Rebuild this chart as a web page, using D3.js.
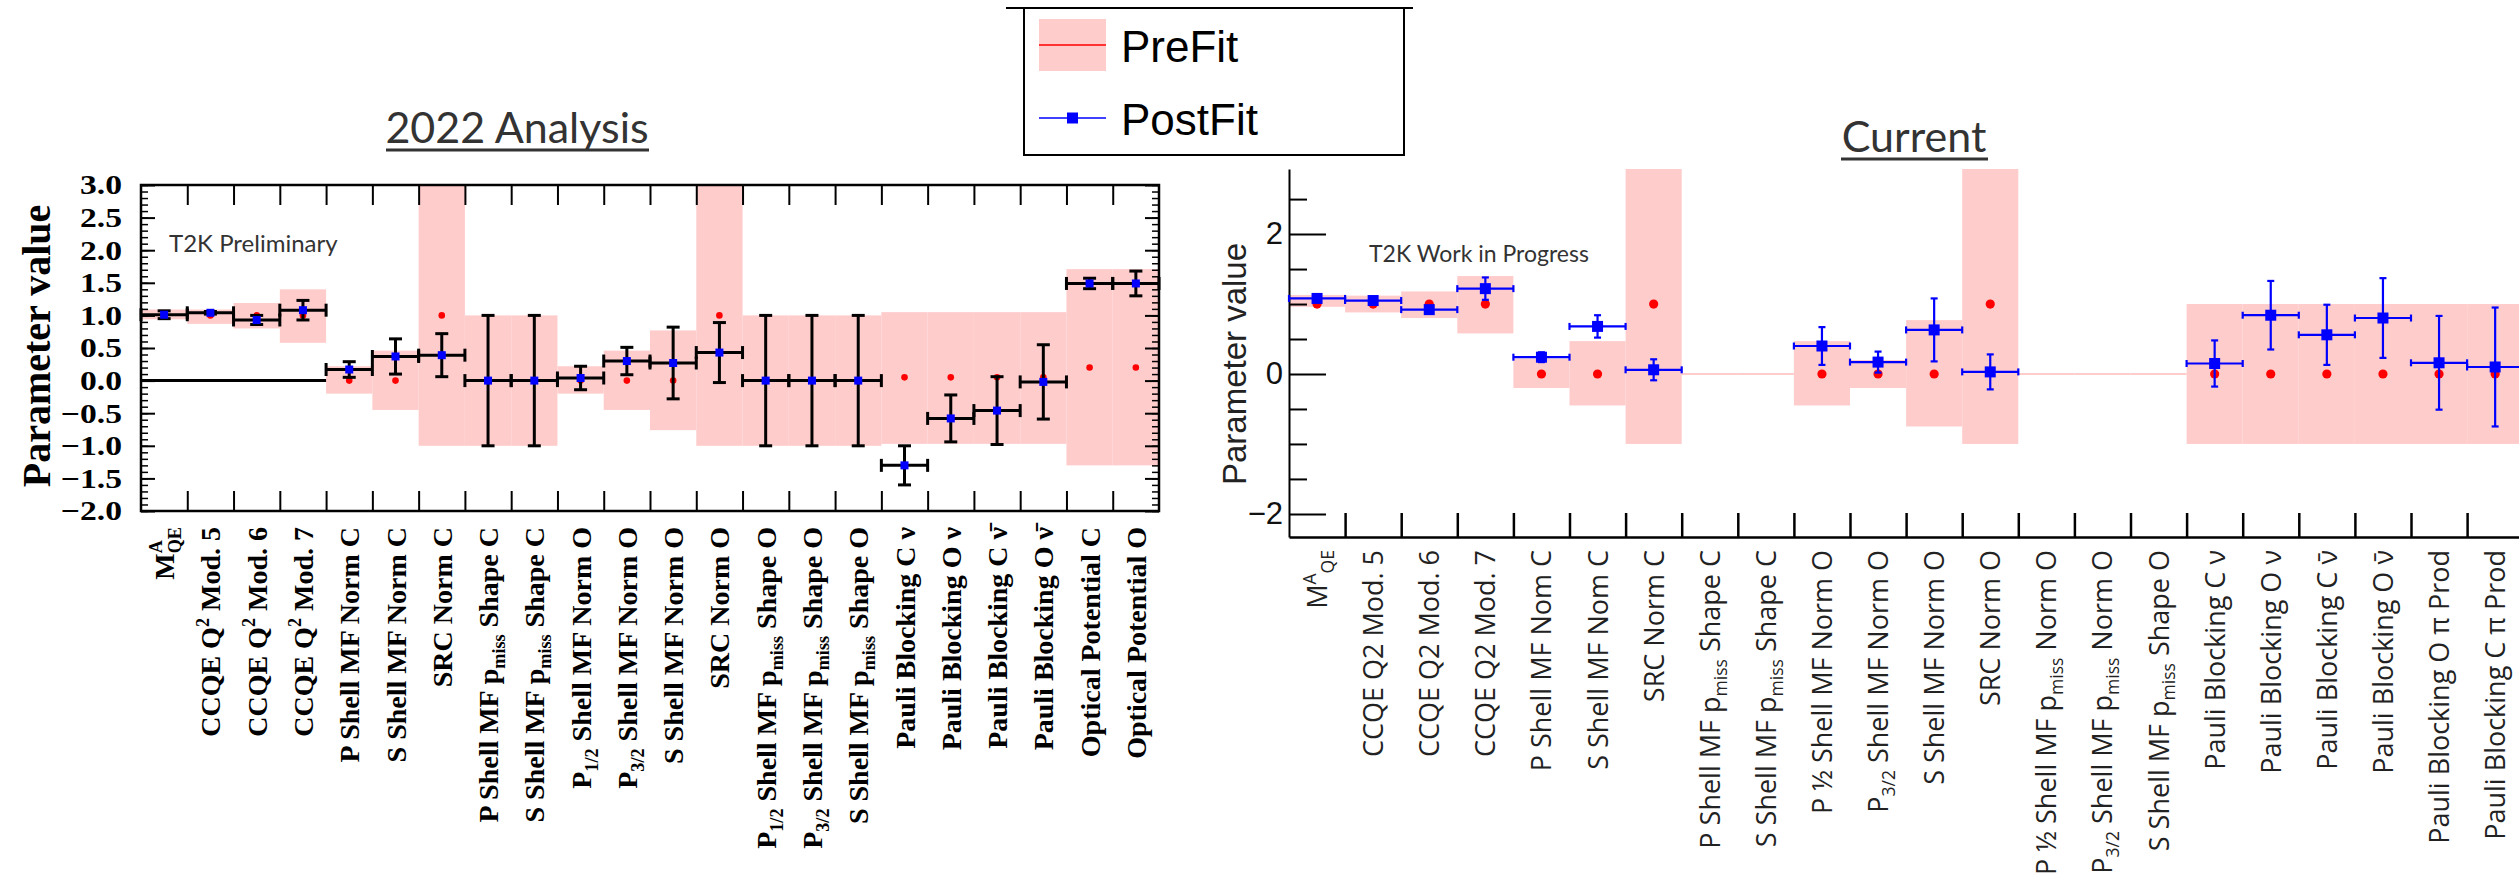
<!DOCTYPE html>
<html>
<head>
<meta charset="utf-8">
<script src="https://d3js.org/d3.v7.min.js"></script>
<style>
  body { margin: 0; background: #fff; }
</style>
</head>
<body>
<svg id="chart" width="2519" height="887"></svg>
<script>
// ---- 2022 analysis (left panel) ----
const leftLabels = [
  "M^{A}_{QE}", "CCQE Q^{2} Mod. 5", "CCQE Q^{2} Mod. 6", "CCQE Q^{2} Mod. 7",
  "P Shell MF Norm C", "S Shell MF Norm C", "SRC Norm C",
  "P Shell MF p_{miss} Shape C", "S Shell MF p_{miss} Shape C",
  "P_{1/2} Shell MF Norm O", "P_{3/2} Shell MF Norm O", "S Shell MF Norm O", "SRC Norm O",
  "P_{1/2} Shell MF p_{miss} Shape O", "P_{3/2} Shell MF p_{miss} Shape O", "S Shell MF p_{miss} Shape O",
  "Pauli Blocking C  ν", "Pauli Blocking O  ν", "Pauli Blocking C  ν̄", "Pauli Blocking O  ν̄",
  "Optical Potential C", "Optical Potential O"
];
const leftPre     = [1, 1, 1, 1, 0, 0, 1, 0, 0, 0, 0, 0, 1, 0, 0, 0, 0.05, 0.05, 0.05, 0.05, 0.2, 0.2];
const leftBandLo  = [0.94, 0.87, 0.80, 0.58, -0.20, -0.45, -1, -1, -1, -0.20, -0.45, -0.76, -1, -1, -1, -1, -0.97, -0.97, -0.97, -0.97, -1.30, -1.30];
const leftBandHi  = [1.09, 1.09, 1.19, 1.40, 0.22, 0.46, 3, 1, 1, 0.22, 0.46, 0.77, 3, 1, 1, 1, 1.05, 1.05, 1.05, 1.05, 1.71, 1.71];
const leftPost    = [1.01, 1.04, 0.93, 1.08, 0.17, 0.37, 0.39, 0, 0, 0.04, 0.30, 0.27, 0.43, 0, 0, 0, -1.30, -0.58, -0.46, -0.02, 1.49, 1.49];
const leftPostErr = [0.06, 0.02, 0.07, 0.15, 0.12, 0.27, 0.33, 1, 1, 0.18, 0.21, 0.55, 0.46, 1, 1, 1, 0.30, 0.36, 0.52, 0.57, 0.08, 0.19];
const leftTicks   = d3.range(-2, 3.001, 0.5);

// ---- current (right panel) ----
const rightLabels = [
  "M^{A}_{QE}", "CCQE Q2 Mod. 5", "CCQE Q2 Mod. 6", "CCQE Q2 Mod. 7",
  "P Shell MF Nom C", "S Shell MF Nom C", "SRC Norm C",
  "P Shell MF p_{miss} Shape C", "S Shell MF p_{miss} Shape C",
  "P ½ Shell MF Norm O", "P_{3/2} Shell MF Norm O", "S Shell MF Norm O", "SRC Norm O",
  "P ½ Shell MF p_{miss} Norm O", "P_{3/2} Shell MF p_{miss} Norm O", "S Shell MF p_{miss} Shape O",
  "Pauli Blocking C ν", "Pauli Blocking O ν", "Pauli Blocking C ν̄", "Pauli Blocking O ν̄",
  "Pauli Blocking O π Prod", "Pauli Blocking C π Prod"
];
const rightPre     = [1, 1, 1, 1, 0, 0, 1, null, null, 0, 0, 0, 1, null, null, null, 0, 0, 0, 0, 0, 0];
const rightBandLo  = [0.96, 0.88, 0.80, 0.58, -0.20, -0.45, -1, 0, 0, -0.45, -0.20, -0.75, -1, 0, 0, 0, -1, -1, -1, -1, -1, -1];
const rightBandHi  = [1.13, 1.12, 1.18, 1.40, 0.22, 0.47, 3, 0, 0, 0.47, 0.20, 0.77, 3, 0, 0, 0, 1, 1, 1, 1, 1, 1];
const rightPost    = [1.08, 1.05, 0.92, 1.22, 0.24, 0.68, 0.06, null, null, 0.40, 0.17, 0.63, 0.03, null, null, null, 0.15, 0.84, 0.56, 0.80, 0.16, 0.10];
const rightPostErr = [0.03, 0.03, 0.03, 0.16, 0.07, 0.16, 0.15, null, null, 0.27, 0.15, 0.45, 0.25, null, null, null, 0.33, 0.49, 0.43, 0.57, 0.67, 0.85];
const rightTicks   = [-2, 0, 2];
const rightMinor   = [-1.5, -1, -0.5, 0.5, 1, 1.5, 2.5];

const svg = d3.select("#chart");
const PINK = "#ffcccc", RED = "#ff0000", BLUE = "#0000ff";

// text with ^{sup} and _{sub} pieces
function rich(text, str, fs, stack) {
  const parts = str.match(/\^\{[^}]*\}|_\{[^}]*\}|[^\^_]+/g);
  let shift = 0, prevSup = null;
  parts.forEach(p => {
    let t = p, target = 0, size = fs;
    if (p[0] === "^") { t = p.slice(2, -1); target = -0.42 * fs; size = 0.65 * fs; }
    else if (p[0] === "_") { t = p.slice(2, -1); target = 0.25 * fs; size = 0.65 * fs; }
    const ts = text.append("tspan").attr("dy", target - shift).style("font-size", size + "px").text(t);
    if (p[0] === "_" && stack && prevSup) ts.attr("dx", -prevSup * size * 0.72);
    prevSup = p[0] === "^" ? t.length : null;
    shift = target;
  });
}

function drawPost(g, x, y, post, err, o) {
  const bw = x.bandwidth();
  const pts = post.map((v, i) => ({ i, v, e: err[i] })).filter(d => d.v !== null);
  const eb = g.append("g").attr("stroke", o.color).attr("stroke-width", o.sw).attr("fill", "none");
  eb.selectAll(".h").data(pts).join("line")
    .attr("x1", d => x(d.i)).attr("x2", d => x(d.i) + bw)
    .attr("y1", d => y(d.v)).attr("y2", d => y(d.v));
  eb.selectAll(".hc").data(pts.flatMap(d => [[x(d.i), d.v], [x(d.i) + bw, d.v]])).join("line")
    .attr("x1", d => d[0]).attr("x2", d => d[0])
    .attr("y1", d => y(d[1]) - o.cap).attr("y2", d => y(d[1]) + o.cap);
  eb.selectAll(".v").data(pts).join("line")
    .attr("x1", d => x(d.i) + bw / 2).attr("x2", d => x(d.i) + bw / 2)
    .attr("y1", d => y(d.v - d.e)).attr("y2", d => y(d.v + d.e));
  eb.selectAll(".vc").data(pts.flatMap(d => [[d.i, d.v - d.e], [d.i, d.v + d.e]])).join("line")
    .attr("x1", d => x(d[0]) + bw / 2 - o.cap).attr("x2", d => x(d[0]) + bw / 2 + o.cap)
    .attr("y1", d => y(d[1])).attr("y2", d => y(d[1]));
  g.append("g").selectAll("rect").data(pts).join("rect")
    .attr("x", d => x(d.i) + bw / 2 - o.sq / 2).attr("y", d => y(d.v) - o.sq / 2)
    .attr("width", o.sq).attr("height", o.sq).attr("fill", BLUE);
}

function styleTicks(g, sw) {
  g.selectAll(".tick line").attr("stroke", "#000").attr("stroke-width", sw);
  g.selectAll(".domain").attr("stroke", "#000").attr("stroke-width", sw);
}

// ================= LEFT =================
const L = { x0: 141, x1: 1159, y0: 185, y1: 511 };
const xL = d3.scaleBand().domain(d3.range(leftLabels.length)).range([L.x0, L.x1]);
const xLb = d3.scaleLinear().domain([0, leftLabels.length]).range([L.x0, L.x1]);
const yL = d3.scaleLinear().domain([-2, 3]).range([L.y1, L.y0]).clamp(true);
const gL = svg.append("g");

gL.append("g").selectAll("rect").data(leftBandLo).join("rect")
  .attr("x", (d, i) => xL(i)).attr("width", xL.bandwidth())
  .attr("y", (d, i) => yL(leftBandHi[i])).attr("height", (d, i) => yL(d) - yL(leftBandHi[i]))
  .attr("fill", PINK);

gL.append("line").attr("x1", xLb(0)).attr("x2", xLb(4)).attr("y1", yL(0)).attr("y2", yL(0))
  .attr("stroke", "#000").attr("stroke-width", 3);

gL.append("g").selectAll("circle").data(leftPre).join("circle")
  .attr("cx", (d, i) => xL(i) + xL.bandwidth() / 2).attr("cy", d => yL(d)).attr("r", 3.3).attr("fill", RED);

// axes
gL.append("g").attr("transform", `translate(${L.x0},0)`)
  .call(d3.axisLeft(yL).tickValues(leftTicks).tickFormat(d3.format(".1f")).tickSize(-14).tickPadding(19))
  .call(g => g.select(".domain").remove())
  .attr("font-family", "Liberation Serif").attr("font-weight", "bold").attr("font-size", 28)
  .call(g => g.selectAll(".tick text").attr("transform", "scale(1.2,1)").attr("x", -19 / 1.2))
  .call(g => styleTicks(g, 2));
gL.append("g").attr("transform", `translate(${L.x0},0)`)
  .call(d3.axisLeft(yL).tickValues(d3.range(-2, 3.001, 0.1)).tickFormat("").tickSize(-7))
  .call(g => g.select(".domain").remove()).call(g => styleTicks(g, 1.5));
gL.append("g").attr("transform", `translate(${L.x1},0)`)
  .call(d3.axisRight(yL).tickValues(leftTicks).tickFormat("").tickSize(-14))
  .call(g => g.select(".domain").remove()).call(g => styleTicks(g, 2));
gL.append("g").attr("transform", `translate(${L.x1},0)`)
  .call(d3.axisRight(yL).tickValues(d3.range(-2, 3.001, 0.1)).tickFormat("").tickSize(-7))
  .call(g => g.select(".domain").remove()).call(g => styleTicks(g, 1.5));
gL.append("g").attr("transform", `translate(0,${L.y1})`)
  .call(d3.axisBottom(xLb).tickValues(d3.range(1, leftLabels.length)).tickFormat("").tickSize(-20))
  .call(g => g.select(".domain").remove()).call(g => styleTicks(g, 2));
gL.append("g").attr("transform", `translate(0,${L.y0})`)
  .call(d3.axisTop(xLb).tickValues(d3.range(1, leftLabels.length)).tickFormat("").tickSize(-20))
  .call(g => g.select(".domain").remove()).call(g => styleTicks(g, 2));
gL.append("rect").attr("x", L.x0).attr("y", L.y0).attr("width", L.x1 - L.x0).attr("height", L.y1 - L.y0)
  .attr("fill", "none").attr("stroke", "#000").attr("stroke-width", 2.5);

drawPost(gL, xL, yL, leftPost, leftPostErr, { color: "#000", sw: 3, cap: 6.5, sq: 8 });

gL.append("g").selectAll("text").data(leftLabels).join("text")
  .attr("transform", (d, i) => `translate(${xL(i) + xL.bandwidth() / 2 + 10},527) rotate(-90)`)
  .attr("text-anchor", "end").attr("font-family", "Liberation Serif").attr("font-weight", "bold")
  .attr("font-size", 28).attr("fill", "#000")
  .each(function (d) { rich(d3.select(this), d, 28, true); });

gL.append("text").attr("transform", `translate(50,${(L.y0 + L.y1) / 2 - 2}) rotate(-90)`)
  .attr("text-anchor", "middle").attr("font-family", "Liberation Serif").attr("font-weight", "bold")
  .attr("font-size", 40).text("Parameter value");
gL.append("text").attr("x", 169).attr("y", 252).attr("font-family", "Lato").attr("font-size", 24)
  .attr("fill", "#333").text("T2K Preliminary");
gL.append("text").attr("x", 517).attr("y", 143).attr("text-anchor", "middle").attr("font-family", "Lato")
  .attr("font-size", 43).attr("fill", "#333").text("2022 Analysis");
gL.append("rect").attr("x", 386).attr("y", 148.5).attr("width", 263).attr("height", 3).attr("fill", "#333");

// ================= RIGHT =================
const R = { x0: 1289, y0: 169, y1: 537, bw: 56.1 };
const xR = d3.scaleBand().domain(d3.range(rightLabels.length)).range([R.x0, R.x0 + R.bw * rightLabels.length]);
const xRb = d3.scaleLinear().domain([0, rightLabels.length]).range([R.x0, R.x0 + R.bw * rightLabels.length]);
const yR = d3.scaleLinear().domain([-2.33, 2.93]).range([R.y1, R.y0]).clamp(true);
const gR = svg.append("g");

gR.append("g").selectAll("rect").data(rightBandLo).join("rect")
  .attr("x", (d, i) => xR(i)).attr("width", xR.bandwidth())
  .attr("y", (d, i) => Math.min(yR(rightBandHi[i]), yR(d) - 1))
  .attr("height", (d, i) => Math.max(yR(d) - yR(rightBandHi[i]), 2))
  .attr("fill", PINK);

gR.append("g").attr("transform", `translate(${R.x0},0)`)
  .call(d3.axisLeft(yR).tickValues(rightTicks).tickFormat(d3.format("d")).tickSize(-37).tickSizeOuter(0).tickPadding(6))
  .attr("font-family", "Liberation Sans").attr("font-size", 31)
  .call(g => g.selectAll(".tick text").attr("fill", "#111"))
  .call(g => styleTicks(g, 2));
gR.append("g").attr("transform", `translate(${R.x0},0)`)
  .call(d3.axisLeft(yR).tickValues(rightMinor).tickFormat("").tickSize(-18))
  .call(g => g.select(".domain").remove()).call(g => styleTicks(g, 2));
gR.append("g").attr("transform", `translate(0,${R.y1})`)
  .call(d3.axisBottom(xRb).tickValues(d3.range(1, rightLabels.length + 1)).tickFormat("").tickSize(-24).tickSizeOuter(0))
  .call(g => styleTicks(g, 2.5));

gR.append("g").selectAll("circle").data(rightPre.map((v, i) => ({ v, i })).filter(d => d.v !== null)).join("circle")
  .attr("cx", d => xR(d.i) + xR.bandwidth() / 2).attr("cy", d => yR(d.v)).attr("r", 4.6).attr("fill", RED);

drawPost(gR, xR, yR, rightPost, rightPostErr, { color: BLUE, sw: 2.2, cap: 3.5, sq: 11 });

gR.append("g").selectAll("text").data(rightLabels).join("text")
  .attr("transform", (d, i) => `translate(${xR(i) + xR.bandwidth() / 2 + 10},550) rotate(-90)`)
  .attr("text-anchor", "end").attr("font-family", "Open Sans").attr("font-size", 27).attr("fill", "#222")
  .each(function (d) { rich(d3.select(this), d, 27, false); });

gR.append("text").attr("transform", `translate(1246,${yR(0) - 10}) rotate(-90)`)
  .attr("text-anchor", "middle").attr("font-family", "Liberation Sans").attr("font-size", 33)
  .attr("fill", "#222").text("Parameter value");
gR.append("text").attr("x", 1369).attr("y", 262).attr("font-family", "Lato").attr("font-size", 23)
  .attr("fill", "#333").text("T2K Work in Progress");
gR.append("text").attr("x", 1914).attr("y", 152).attr("text-anchor", "middle").attr("font-family", "Lato")
  .attr("font-size", 43).attr("fill", "#333").text("Current");
gR.append("rect").attr("x", 1841).attr("y", 157.5).attr("width", 147).attr("height", 3).attr("fill", "#333");

// ================= LEGEND =================
const lg = svg.append("g");
lg.append("line").attr("x1", 1006).attr("x2", 1413).attr("y1", 8).attr("y2", 8).attr("stroke", "#000").attr("stroke-width", 2);
lg.append("rect").attr("x", 1024).attr("y", 8).attr("width", 380).attr("height", 147)
  .attr("fill", "none").attr("stroke", "#000").attr("stroke-width", 2);
lg.append("rect").attr("x", 1039).attr("y", 19).attr("width", 67).attr("height", 52).attr("fill", PINK);
lg.append("line").attr("x1", 1039).attr("x2", 1106).attr("y1", 45).attr("y2", 45).attr("stroke", RED).attr("stroke-width", 1.5);
lg.append("line").attr("x1", 1039).attr("x2", 1106).attr("y1", 118).attr("y2", 118).attr("stroke", BLUE).attr("stroke-width", 1.5);
lg.append("rect").attr("x", 1067).attr("y", 112.5).attr("width", 11).attr("height", 11).attr("fill", BLUE);
lg.selectAll("text.lab").data(["PreFit", "PostFit"]).join("text")
  .attr("x", 1121).attr("y", (d, i) => 62 + i * 73)
  .attr("font-family", "Liberation Sans").attr("font-size", 44).attr("fill", "#000").text(d => d);
</script>
</body>
</html>
